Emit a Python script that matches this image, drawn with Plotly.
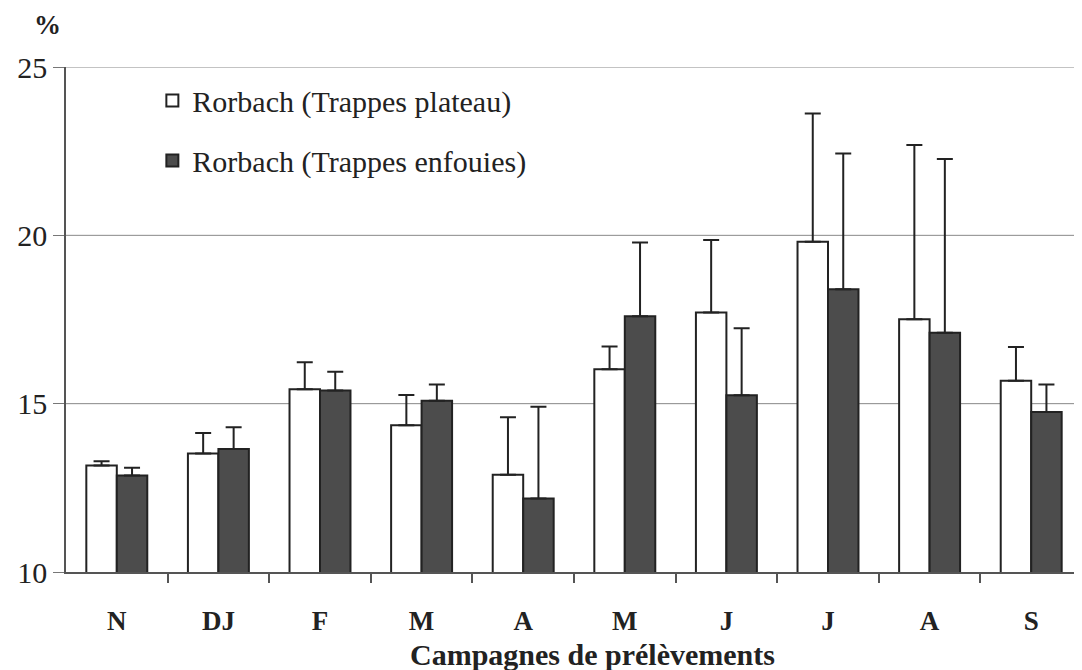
import plotly.graph_objects as go

labels = ["N", "DJ", "F", "M", "A", "M", "J", "J", "A", "S"]
plateau = [13.16, 13.52, 15.43, 14.36, 12.89, 16.02, 17.71, 19.81, 17.51, 15.68]
plateau_err = [0.13, 0.61, 0.80, 0.90, 1.71, 0.68, 2.15, 3.81, 5.17, 1.00]
enfouies = [12.87, 13.65, 15.39, 15.09, 12.18, 17.60, 15.25, 18.40, 17.11, 14.75]
enfouies_err = [0.23, 0.65, 0.56, 0.48, 2.73, 2.19, 1.99, 4.03, 5.16, 0.82]
grid_values = [15, 20, 25]

x = list(range(len(labels)))
serif = "Liberation Serif"

fig = go.Figure()
fig.add_trace(go.Bar(
    x=x, y=plateau, name="Rorbach (Trappes plateau)", legendgroup="a",
    marker=dict(color="white", line=dict(color="#222222", width=2)),
    error_y=dict(type="data", array=plateau_err, symmetric=False,
                 arrayminus=[0] * len(x), color="#222222", thickness=2, width=8),
))
fig.add_trace(go.Bar(
    x=x, y=enfouies, name="Rorbach (Trappes enfouies)", legendgroup="b",
    marker=dict(color="#4c4c4c", line=dict(color="#222222", width=2)),
    error_y=dict(type="data", array=enfouies_err, symmetric=False,
                 arrayminus=[0] * len(x), color="#222222", thickness=2, width=8),
))

for g in grid_values:
    fig.add_hline(y=g, line=dict(color="#888888", width=1), layer="below")

fig.update_layout(
    width=1074, height=662,
    margin=dict(l=58, r=0, t=59, b=98),
    paper_bgcolor="white", plot_bgcolor="white",
    barmode="group", bargap=0.4, bargroupgap=0,
    font=dict(family=serif, color="#222222"),
    showlegend=True,
    legend=dict(x=0.085, y=0.985, xanchor="left", yanchor="top",
                font=dict(family=serif, size=30, color="#222222"),
                traceorder="grouped", tracegroupgap=18, itemwidth=30,
                bgcolor="rgba(0,0,0,0)"),
    xaxis=dict(
        range=[-0.5, 9.5], tickvals=x, ticktext=labels,
        ticks="", showgrid=False, zeroline=False,
        showline=True, linecolor="#555555", linewidth=1.5,
        tickfont=dict(family=serif, size=27, color="#222222", weight="bold"),
        ticklabelstandoff=24,
        minor=dict(tickvals=[i + 0.5 for i in range(9)], ticks="outside",
                   ticklen=9, tickcolor="#555555", tickwidth=1.5),
    ),
    yaxis=dict(
        range=[10, 25], tickvals=[10, 15, 20, 25],
        showgrid=False,
        showline=True, linecolor="#555555", linewidth=1.5,
        zeroline=False, ticks="outside", ticklen=11, tickcolor="#777777",
        tickfont=dict(family=serif, size=30, color="#222222"),
    ),
    annotations=[
        dict(text="%", xref="paper", yref="paper",
             x=-0.018, y=1.083, xanchor="center", yanchor="middle",
             showarrow=False,
             font=dict(family=serif, size=27, color="#222222", weight="bold")),
        dict(text="Campagnes de prélèvements", xref="paper", yref="paper",
             x=0.518, y=-0.163, xanchor="center", yanchor="middle",
             showarrow=False,
             font=dict(family=serif, size=30, color="#222222", weight="bold")),
    ],
)

fig.write_html("out.html")
